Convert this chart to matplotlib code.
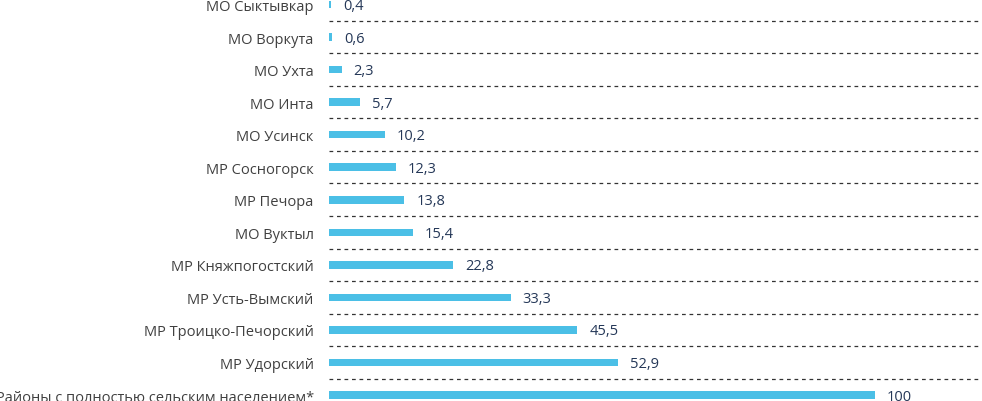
import matplotlib.pyplot as plt

# данные
names = ['МО Сыктывкар', 'МО Воркута', 'МО Ухта', 'МО Инта', 'МО Усинск',
         'МР Сосногорск', 'МР Печора', 'МО Вуктыл', 'МР Княжпогостский',
         'МР Усть-Вымский', 'МР Троицко-Печорский', 'МР Удорский',
         'Районы с полностью сельским населением*']
vals = [0.4, 0.6, 2.3, 5.7, 10.2, 12.3, 13.8, 15.4, 22.8, 33.3, 45.5, 52.9, 100]
val_labels = ['0,4', '0,6', '2,3', '5,7', '10,2', '12,3', '13,8', '15,4',
              '22,8', '33,3', '45,5', '52,9', '100']

fig = plt.figure(figsize=(9.82, 4.02), dpi=100)
ax = fig.add_axes([0.335, -0.0256, 0.665, 1.0524])

y = list(range(len(names)))
ax.barh(y, vals, height=0.23, color='#4bbfe6')

for i in range(len(names) - 1):
    ax.axhline(i + 0.5, color='#333333', lw=0.9, ls=(0, (3, 3)))

for i, v in enumerate(vals):
    ax.annotate(val_labels[i], (v, i), xytext=(12, -1), textcoords='offset pixels',
                va='center', ha='left', fontsize=10.5, color='#253858',
                family='Open Sans')

ax.set_xlim(0, 119.6)
ax.set_ylim(len(names) - 0.5, -0.5)
ax.set_yticks(y)
ax.set_yticklabels(names, fontsize=10.5, color='#404040', family='Open Sans')
ax.tick_params(axis='y', length=0, pad=11)
ax.set_xticks([])
for s in ax.spines.values():
    s.set_visible(False)

plt.savefig('out.png', dpi=100)
